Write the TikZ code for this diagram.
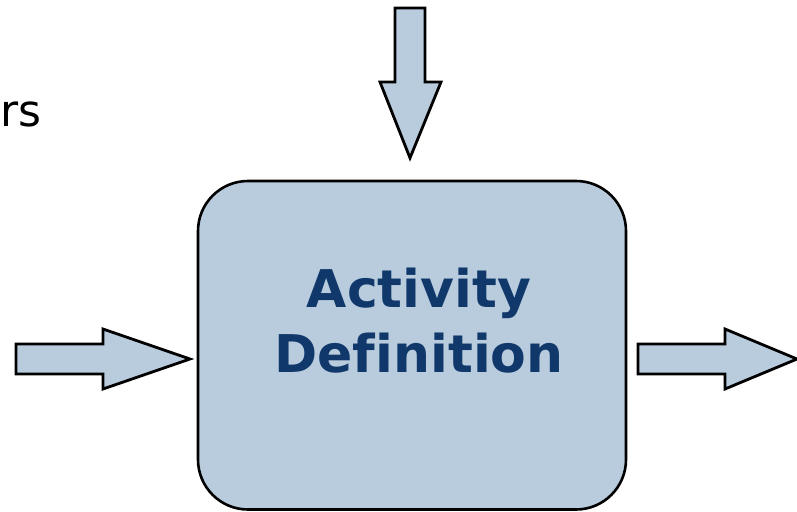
\documentclass[tikz,border=0pt]{standalone}
\usepackage{fontspec}
\setmainfont[Ligatures=NoCommon]{DejaVu Sans}
\definecolor{boxfill}{HTML}{B9CCDE}
\definecolor{titleblue}{HTML}{10386A}
\begin{document}
\begin{tikzpicture}[x=1pt,y=-1pt,
  blockarrow/.style={draw=black,fill=boxfill,line width=2.8pt,line join=miter},
  activitybox/.style={draw=black,fill=boxfill,line width=2.6pt,rounded corners=50pt},
  titletext/.style={text=titleblue,font=\fontsize{52}{64}\selectfont\bfseries,inner sep=0pt,anchor=base}]
  \useasboundingbox (0,0) rectangle (797,511);
  % partial label at upper left
  \node[anchor=base west,inner sep=0pt,font=\fontsize{44}{52}\selectfont] (lbl) at (0,126) {rs};
  % central activity box
  \draw[activitybox] (198,181) rectangle (626,509.5);
  \node[titletext] (title1) at (419,307) {Activity};
  \node[titletext] (title2) at (419,372) {Definition};
  % control arrow from the top
  \draw[blockarrow] (395,8) -- (425,8) -- (425,82) -- (441,82) -- (410,158)
    -- (380,82) -- (395,82) -- cycle;
  % input arrow from the left
  \draw[blockarrow] (16,344) -- (103,344) -- (103,329) -- (190,359)
    -- (103,389) -- (103,374) -- (16,374) -- cycle;
  % output arrow to the right
  \draw[blockarrow] (638,344) -- (725,344) -- (725,329) -- (797,359)
    -- (725,389) -- (725,374) -- (638,374) -- cycle;
\end{tikzpicture}
\end{document}
